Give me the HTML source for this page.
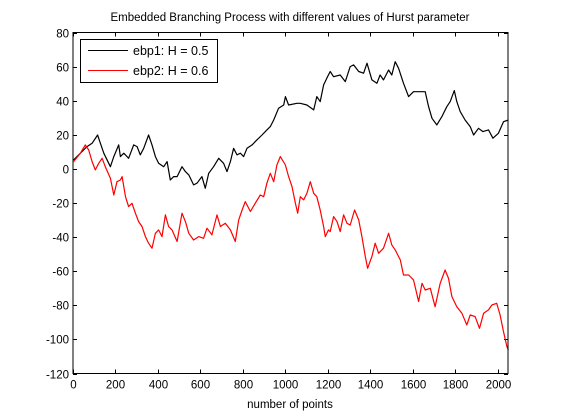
<!DOCTYPE html>
<html><head><meta charset="utf-8"><style>
body{margin:0;background:#fff;}
svg{display:block;font-family:"Liberation Sans",sans-serif;}
</style></head><body>
<svg id="chart" width="561" height="420" xmlns="http://www.w3.org/2000/svg">
<rect x="0" y="0" width="561" height="420" fill="#fff"/>
<text x="290" y="21" font-size="11.5" text-anchor="middle">Embedded Branching Process with different values of Hurst parameter</text>
<g id="axes"></g>
<g id="series"></g>
<rect x="73" y="32.5" width="435" height="341" fill="none" stroke="#000" stroke-width="1"/>
<g>
<rect x="80.5" y="39.5" width="137" height="43" fill="#fff" stroke="#000"/>
<line x1="88" y1="50.5" x2="128" y2="50.5" stroke="#000"/>
<text x="133" y="55" font-size="12.5">ebp1: H = 0.5</text>
<line x1="88" y1="70.5" x2="128" y2="70.5" stroke="#f00"/>
<text x="133" y="75" font-size="12.5">ebp2: H = 0.6</text>
</g>
<text x="290" y="408" font-size="11.5" text-anchor="middle">number of points</text>
</svg>
<script>
const xTicks=[0,200,400,600,800,1000,1200,1400,1600,1800,2000];
const yTicks=[80,60,40,20,0,-20,-40,-60,-80,-100,-120];
const ebp1N=[3,50,66,90,116,129,145,176,192,215,223,239,262,286,302,317,333,356,372,388,403,427,443,458,474,490,513,529,545,568,584,607,623,639,662,686,709,725,741,756,772,788,803,819,843,866,890,913,929,945,968,992,1000,1015,1054,1070,1101,1133,1148,1164,1180,1195,1211,1227,1258,1282,1305,1321,1345,1368,1384,1407,1431,1446,1462,1486,1501,1517,1533,1556,1580,1603,1635,1658,1674,1690,1713,1737,1760,1776,1795,1807,1823,1846,1870,1886,1909,1930,1956,1977,2003,2027,2050];
const ebp1V=[5.3,11.1,13.1,15.0,19.9,15.0,9.2,1.3,7.2,14.1,7.2,9.2,6.2,14.1,13.1,8.2,12.1,19.9,14.1,7.2,3.3,1.3,4.3,-6.5,-4.5,-4.5,1.3,-1.6,-3.5,-9.4,-8.4,-4.5,-11.4,-2.6,1.3,6.2,3.3,-1.6,4.3,12.1,8.2,9.2,7.2,12.1,14.1,17.0,19.9,22.9,24.8,28.7,35.6,37.5,42.4,37.5,38.5,38.5,37.5,34.6,42.4,39.5,49.2,53.2,57.1,54.1,55.1,51.2,60.0,61.0,57.1,56.1,62.0,52.2,50.2,55.1,52.2,58.0,55.1,62.9,59.0,50.2,42.4,45.3,45.3,45.3,36.5,29.7,25.8,30.7,36.5,39.5,45.9,39.5,33.6,28.7,24.8,19.9,23.8,21.9,22.9,18.0,20.9,27.7,28.7];
const ebp2N=[3,35,58,74,90,105,121,137,152,176,192,207,223,231,247,262,278,294,309,325,341,356,372,388,403,419,435,450,466,490,513,529,545,568,592,615,631,654,678,694,717,741,764,780,796,811,835,858,882,898,913,929,945,960,976,1000,1015,1031,1047,1058,1070,1086,1101,1117,1133,1148,1164,1180,1188,1203,1211,1227,1243,1258,1274,1290,1305,1326,1345,1360,1376,1387,1407,1423,1439,1462,1486,1501,1517,1541,1556,1580,1603,1627,1643,1658,1682,1705,1729,1752,1768,1784,1807,1831,1854,1870,1893,1914,1933,1956,1972,1995,2011,2027,2043,2050];
const ebp2V=[4.3,9.2,14.1,11.1,4.3,-0.6,3.3,6.2,1.3,-5.5,-15.3,-7.5,-6.5,-4.5,-16.3,-22.1,-20.2,-26.0,-30.9,-33.8,-39.7,-43.6,-46.5,-37.8,-35.8,-39.7,-27.0,-33.8,-35.8,-42.6,-26.0,-30.9,-37.8,-41.7,-39.7,-40.7,-34.8,-38.7,-27.0,-33.8,-31.9,-35.8,-42.6,-29.9,-24.1,-19.2,-25.0,-20.2,-15.3,-16.3,-8.4,-2.6,-7.5,2.3,7.2,2.3,-4.5,-10.4,-20.2,-26.0,-16.3,-18.2,-14.3,-7.5,-14.3,-16.3,-24.1,-33.8,-39.7,-35.8,-36.8,-28.0,-30.9,-36.8,-27.0,-31.9,-32.9,-24.1,-29.9,-39.7,-51.4,-58.3,-51.4,-43.6,-49.5,-46.5,-37.8,-44.6,-47.5,-53.4,-62.2,-62.2,-65.1,-77.8,-67.1,-71.0,-70.0,-80.8,-67.1,-59.3,-64.2,-74.9,-80.8,-84.7,-91.5,-85.7,-86.6,-93.5,-84.7,-82.7,-79.8,-78.8,-85.7,-95.4,-104.2,-106.2];
const L=73,R=508,T=32.5,B=373.5,X0=0,X1=2048,Y0=-120,Y1=80;
const xs=v=>L+(v-X0)/(X1-X0)*(R-L);
const ys=v=>B-(v-Y0)/(Y1-Y0)*(B-T);
const NS="http://www.w3.org/2000/svg";
const axes=document.getElementById('axes');
function mk(tag,attrs,parent){const e=document.createElementNS(NS,tag);for(const k in attrs)e.setAttribute(k,attrs[k]);parent.appendChild(e);return e;}
xTicks.forEach(t=>{
  const x=Math.round(xs(t))+0.5;
  const a=mk('line',{x1:x,y1:B,x2:x,y2:B-4,stroke:'#000'},axes);
  
  
  const b=mk('line',{x1:x,y1:T,x2:x,y2:T+4,stroke:'#000'},axes);
  
  
  const tx=mk('text',{x:x,y:B+15,'font-size':11.5,'text-anchor':'middle'},axes);
  tx.textContent=t;
  
  
});
yTicks.forEach(t=>{
  const y=Math.round(ys(t))+0.5;
  const a=mk('line',{x1:L,y1:y,x2:L+4,y2:y,stroke:'#000'},axes);
  
  
  const b=mk('line',{x1:R,y1:y,x2:R-4,y2:y,stroke:'#000'},axes);
  
  
  const tx=mk('text',{x:L-4,y:y+4,'font-size':11.5,'text-anchor':'end'},axes);
  tx.textContent=t;
  
  
});
const ser=document.getElementById('series');
function line(ns,vs,color,name){
  const pts=ns.map((n,i)=>xs(n).toFixed(1)+','+ys(vs[i]).toFixed(1)).join(' ');
  const p=mk('polyline',{points:pts,fill:'none',stroke:color,'stroke-width':1.2,'stroke-linejoin':'round'},ser);
  
  
}
line(ebp1N,ebp1V,'#000','series-ebp1');
line(ebp2N,ebp2V,'#f00','series-ebp2');
</script>
</body></html>
